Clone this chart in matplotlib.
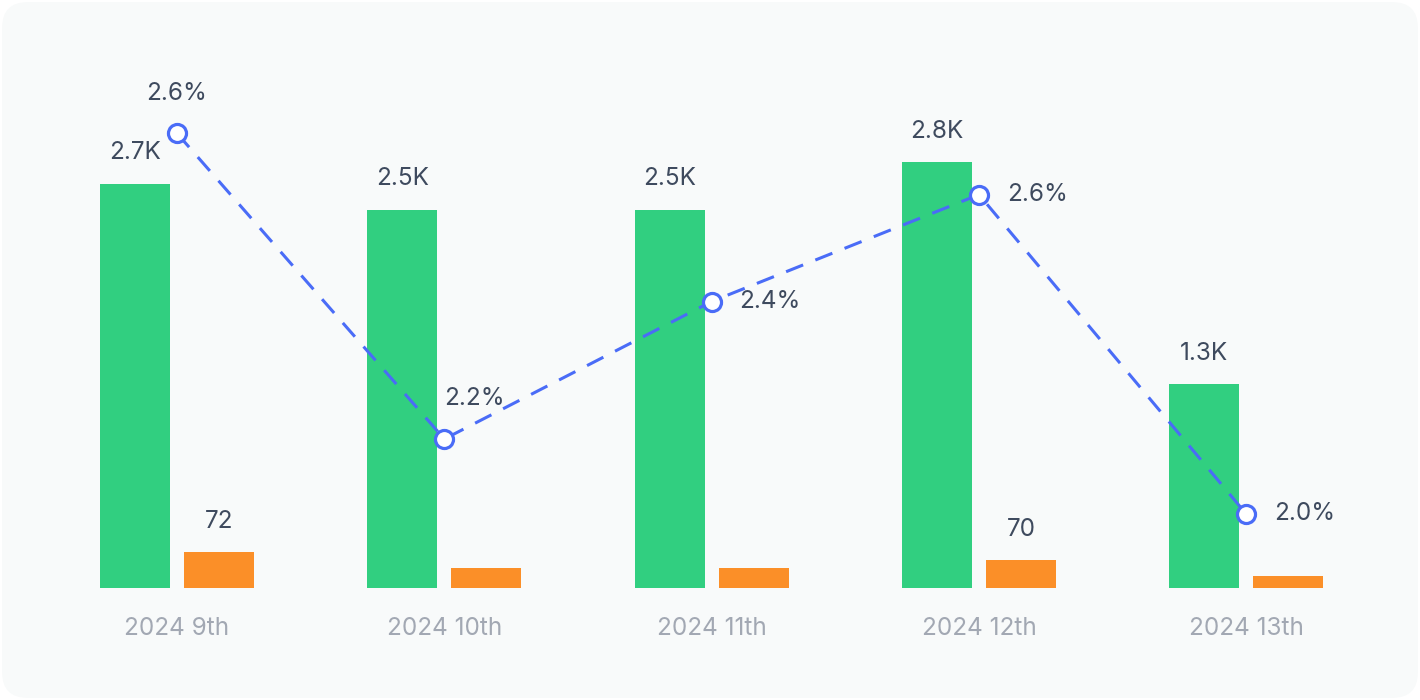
import numpy as np
import matplotlib
matplotlib.use("Agg")
import matplotlib.pyplot as plt
from matplotlib.patches import FancyBboxPatch

plt.rcParams['font.family'] = ['Inter', 'DejaVu Sans']

periods = ["2024 9th", "2024 10th", "2024 11th", "2024 12th", "2024 13th"]
green_vals = [2660, 2490, 2490, 2800, 1340]
orange_vals = [72, 68, 68, 70, 66]
orange_shown = [True, False, False, True, False]
rate_vals = [2.649, 2.16, 2.38, 2.551, 2.04]

GREEN = "#31cf80"
ORANGE = "#fb8f28"
BLUE = "#4a6cf7"
TXT = "#3e4a5e"
TICK = "#a2a8b3"
FS = 17.5

fig = plt.figure(figsize=(14.2, 7), dpi=100)
fig.patch.set_facecolor("white")
card = FancyBboxPatch((0.0015, 0.003), 0.997, 0.994,
                      boxstyle="round,pad=0,rounding_size=0.018",
                      transform=fig.transFigure, facecolor="#f8fafa",
                      edgecolor="none", mutation_aspect=1420 / 700, zorder=-5)
fig.patches.append(card)

rect = [43.4 / 1420, 112 / 700, 1336.5 / 1420, 528 / 700]
ax = fig.add_axes(rect)
ax2 = ax.twinx()
ax3 = ax.twinx()
for a in (ax, ax2, ax3):
    a.patch.set_visible(False)
    for s in a.spines.values():
        s.set_visible(False)
    a.set_yticks([])

x = np.arange(len(periods))
off = 0.157
w = 0.262

ax.set_xlim(-0.5, 4.5)
ax.set_ylim(0, 3474)
gb = ax.bar(x - off, green_vals, width=w, color=GREEN)
for rct, v in zip(gb, green_vals):
    ax.annotate(f"{v/1000:.1f}K", (rct.get_x() + rct.get_width() / 2, rct.get_height()),
                xytext=(0, 14), textcoords="offset points", ha="center", va="bottom",
                fontsize=FS, color=TXT)

orange_min = 63
ax2.set_ylim(orange_min, orange_min + 132)
ob = ax2.bar(x + off, np.array(orange_vals) - orange_min, bottom=orange_min, width=w, color=ORANGE)
for rct, v, show in zip(ob, orange_vals, orange_shown):
    if show:
        ax2.annotate(f"{v}", (rct.get_x() + rct.get_width() / 2, v),
                     xytext=(0, 14), textcoords="offset points", ha="center", va="bottom",
                     fontsize=FS, color=TXT)

ax3.set_ylim(1.9216, 2.7664)
ax3.plot(x, rate_vals, color=BLUE, lw=2.2, dashes=(6, 4.3), zorder=3)
ax3.plot(x, rate_vals, "o", ms=13, mfc="white", mec=BLUE, mew=2.3, zorder=4)
label_pos = [((0, 29), "center", "center"),
             ((0, 29), "left", "center"),
             ((20, 0), "left", "center"),
             ((20, 0), "left", "center"),
             ((20, 0), "left", "center")]
for xi, v, (xy, ha, va) in zip(x, rate_vals, label_pos):
    ax3.annotate(f"{v:.1f}%", (xi, v), xytext=xy, textcoords="offset points",
                 ha=ha, va=va, fontsize=FS, color=TXT)

ax.set_xticks(x)
ax.set_xticklabels(periods, fontsize=FS, color=TICK)
ax.tick_params(axis="x", length=0, pad=21)

fig.savefig("out.png", dpi=100)
